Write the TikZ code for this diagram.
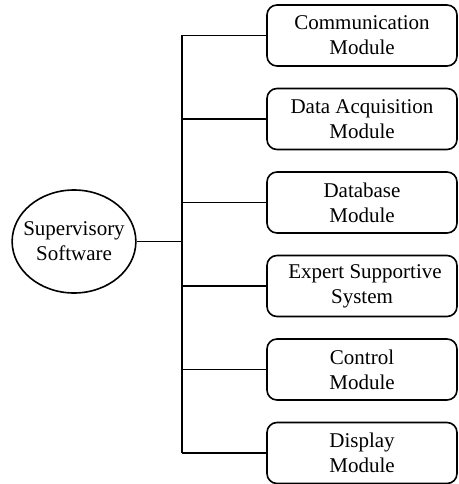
\documentclass[tikz,border=0pt]{standalone}
\usepackage{fontspec}
\setmainfont{Liberation Serif}
\usetikzlibrary{shapes.geometric}
\begin{document}
\begin{tikzpicture}[x=1pt,y=-1pt,
  line width=1.6pt,
  modbox/.style={draw, rounded corners=10pt, minimum width=190pt, minimum height=61pt,
    align=center, inner sep=0pt, font=\fontsize{21}{25}\selectfont},
  root/.style={draw, ellipse, minimum height=103pt, inner xsep=-7pt, inner ysep=0pt,
    align=center, font=\fontsize{21}{25}\selectfont},
  wire/.style={line width=1.6pt}]
\useasboundingbox (0,0) rectangle (458,484);
% root of the tree
\node[root] (sw) at (74,241.5) {Supervisory\\Software};
% module boxes
\node[modbox] (m1) at (362,35.5)  {Communication\\Module};
\node[modbox] (m2) at (362,119)   {Data Acquisition\\Module};
\node[modbox] (m3) at (362,202.5) {Database\\Module};
\node[modbox] (m4) at (362,286)   {\hspace*{6pt}Expert Supportive\\System};
\node[modbox] (m5) at (362,369.5) {Control\\Module};
\node[modbox] (m6) at (362,453)   {Display\\Module};
% trunk and branches
\coordinate (top) at (182,35.5);
\coordinate (bot) at (182,453);
\coordinate (mid) at (182,241.5);
\draw[wire] (top) -- (bot);
\draw[wire] (sw.east) -- (mid);
\foreach \m in {m1,m2,m3,m4,m5,m6}
  \draw[wire] (\m.west) -- (182,0 |- \m.west);
\end{tikzpicture}
\end{document}
